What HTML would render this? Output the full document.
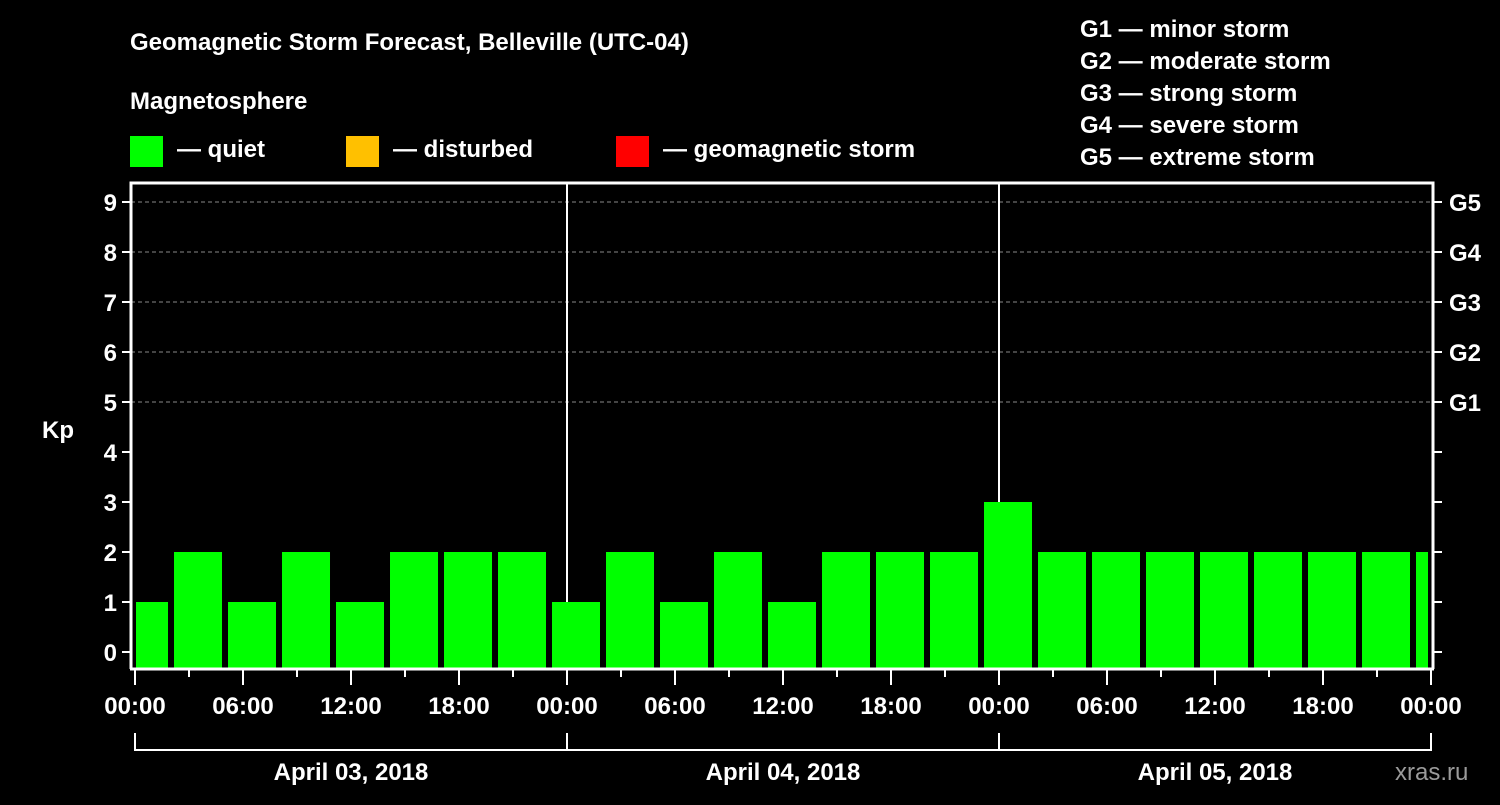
<!DOCTYPE html>
<html><head><meta charset="utf-8"><style>
body{margin:0;background:#000;width:1500px;height:800px;overflow:hidden}
svg text{font-family:"Liberation Sans",Arial,sans-serif;font-weight:bold;fill:#fff}
</style></head><body>
<svg id="c" width="1500" height="800">
<text x="130" y="50" font-size="24">Geomagnetic Storm Forecast, Belleville (UTC-04)</text>
<text x="130" y="109" font-size="24">Magnetosphere</text>
<rect x="130" y="136" width="33" height="31" fill="#00ff00"/>
<text x="177" y="157" font-size="24">— quiet</text>
<rect x="346" y="136" width="33" height="31" fill="#ffc000"/>
<text x="393" y="157" font-size="24">— disturbed</text>
<rect x="616" y="136" width="33" height="31" fill="#ff0000"/>
<text x="663" y="157" font-size="24">— geomagnetic storm</text>
<g font-size="24">
<text x="1080" y="37">G1 — minor storm</text>
<text x="1080" y="69">G2 — moderate storm</text>
<text x="1080" y="101">G3 — strong storm</text>
<text x="1080" y="133">G4 — severe storm</text>
<text x="1080" y="165">G5 — extreme storm</text>
</g>
<text x="42" y="438" font-size="24">Kp</text>
<text x="1395" y="780" font-size="24" fill="#999" style="fill:#9a9a9a;font-weight:normal">xras.ru</text>
<g id="plot"></g>
</svg>
<script>
const kpValues=[1,2,1,2,1,2,2,2,1,2,1,2,1,2,2,2,3,2,2,2,2,2,2,2,2];
const yTicks=[0,1,2,3,4,5,6,7,8,9];
const gLabels=["G1","G2","G3","G4","G5"];
const hourLabels=["00:00","06:00","12:00","18:00"];
const dayLabels=["April 03, 2018","April 04, 2018","April 05, 2018"];
const NS="http://www.w3.org/2000/svg";
const g=document.getElementById("plot");
const L=131,R=1433,T=183,B=669,X0=135,PXH=18;
const y=v=>652-v*50;
const x=h=>X0+h*PXH;
function mk(t,a){const e=document.createElementNS(NS,t);for(const k in a)e.setAttribute(k,a[k]);g.appendChild(e);return e;}
// grid
for(let v=5;v<=9;v++){const e=mk("line",{x1:L,x2:R,y1:y(v),y2:y(v),stroke:"#888","stroke-dasharray":"4,3"});

}
// day separators
for(let d=1;d<dayLabels.length;d++){const e=mk("line",{x1:x(d*24),x2:x(d*24),y1:T,y2:B,stroke:"#fff","stroke-width":2});

}
// bars
kpValues.forEach((v,i)=>{
 let x1=x(i*3-0.833),x2=x1+48;x1=Math.max(x1,L+5);x2=Math.min(x2,R-5);
 const e=mk("rect",{x:x1,y:y(v),width:x2-x1,height:B-1-y(v),fill:"#00ff00"});
 
 
});
// frame
const f=mk("path",{d:`M${L},${B}V${T}H${R}V${B}M${L-1},${B}H${R+1}`,stroke:"#fff","stroke-width":3,fill:"none"});


yTicks.forEach(v=>{
 mk("line",{x1:L-9,x2:L,y1:y(v),y2:y(v),stroke:"#fff","stroke-width":2});
 mk("line",{x1:R,x2:R+9,y1:y(v),y2:y(v),stroke:"#fff","stroke-width":2});
 const t=mk("text",{x:L-14,y:y(v)+9,"font-size":24,"text-anchor":"end"});t.textContent=v;
 
 
});
gLabels.forEach((s,i)=>{const t=mk("text",{x:R+16,y:y(i+5)+9,"font-size":24});t.textContent=s;
 
 });
const nd=dayLabels.length;
for(let h=0;h<=nd*24;h+=3){
 const major=h%6===0;
 mk("line",{x1:x(h),x2:x(h),y1:B,y2:B+(major?16:8),stroke:"#fff","stroke-width":2});
 if(major){const t=mk("text",{x:x(h),y:B+45,"font-size":24,"text-anchor":"middle"});t.textContent=hourLabels[(h%24)/6];
 
 }
}
const br=mk("path",{d:`M${x(0)},733V750H${x(nd*24)}V733`+dayLabels.map((_,d)=>d?`M${x(d*24)},750V733`:"").join(""),stroke:"#fff","stroke-width":2,fill:"none"});


dayLabels.forEach((s,d)=>{const t=mk("text",{x:x(d*24+12),y:780,"font-size":24,"text-anchor":"middle"});t.textContent=s;
 
 });
</script>
</body></html>
